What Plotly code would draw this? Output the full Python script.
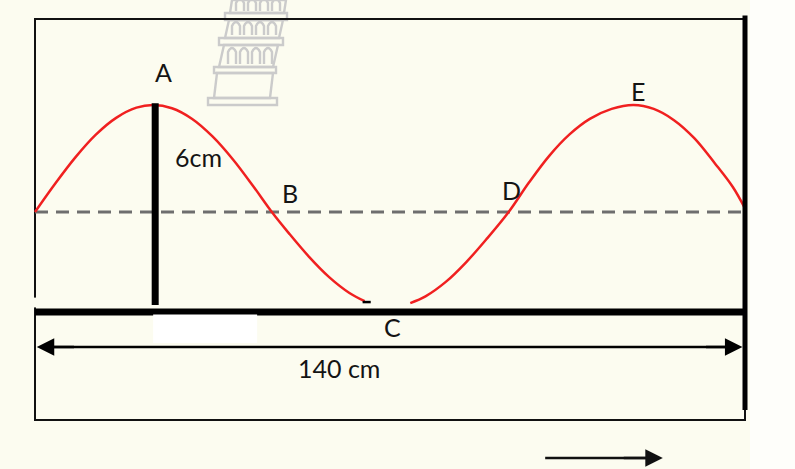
import plotly.graph_objects as go

# ---- data (cm) ----
wave1_x = [0, 4, 8, 12, 16, 20, 23.3, 27, 31, 35, 39, 43, 46.7, 50, 54, 58, 62, 65]
wave1_y = [0, 1.6, 3.08, 4.34, 5.28, 5.85, 6.0, 5.82, 5.22, 4.24, 2.96, 1.46, 0, -1.17, -2.5, -3.65, -4.54, -5.0]
wave2_x = [74, 77, 81, 85, 89, 93.4, 97.4, 101.4, 105.4, 109.4, 113.7, 118, 122, 126, 130, 134, 137.6, 140]
wave2_y = [-5.11, -4.73, -3.92, -2.82, -1.53, 0, 1.65, 3.15, 4.35, 5.22, 5.78, 6.0, 5.78, 5.15, 4.14, 2.75, 1.4, 0.2]

length_cm = 140
amplitude_cm = 6
box_top, box_bottom = 10.82, -11.67
ground_y = -5.61
marker_x = 23.7
marker_top, marker_bottom = 6.1, -5.22
dim_y = -7.57
motion_x = [100.6, 123.8]
motion_y = -13.8

labels = ["A", "6cm", "B", "C", "D", "E", "140 cm"]
label_x = [25.4, 32.3, 50.3, 70.4, 93.9, 118.9, 59.9]
label_y = [7.85, 3.08, 1.07, -6.45, 1.23, 6.79, -8.72]

BG = "#fcfcf0"
W, H = 795, 469

fig = go.Figure()

# dashed equilibrium line
fig.add_trace(go.Scatter(x=[0, length_cm], y=[0, 0], mode="lines",
                         line=dict(color="#6e6e6e", width=3, dash="13px,8px"),
                         hoverinfo="skip", showlegend=False))
# wave
for wx, wy in ((wave1_x, wave1_y), (wave2_x, wave2_y)):
    fig.add_trace(go.Scatter(x=wx, y=wy, mode="lines", line=dict(color="#f02020", width=2.5, shape="spline"),
                             hoverinfo="skip", showlegend=False))

shapes = []
# outer box (thin)
shapes.append(dict(type="rect", x0=0, x1=length_cm, y0=box_bottom, y1=box_top,
                   line=dict(color="#111", width=2), layer="below"))
# gap in left side
shapes.append(dict(type="rect", x0=-0.6, x1=0.6, y0=-5.35, y1=-4.8, line=dict(width=0), fillcolor=BG))
# thick right line
shapes.append(dict(type="line", x0=length_cm, x1=length_cm, y0=box_top + 0.2, y1=-11.1,
                   line=dict(color="#000", width=5)))
# ground line
shapes.append(dict(type="line", x0=0, x1=length_cm, y0=ground_y, y1=ground_y,
                   line=dict(color="#000", width=7)))
# white patch under ground line
shapes.append(dict(type="rect", x0=23.3, x1=43.8, y0=-7.35, y1=-5.75, line=dict(width=0), fillcolor="#ffffff"))
# amplitude marker
shapes.append(dict(type="line", x0=marker_x, x1=marker_x, y0=marker_bottom, y1=marker_top,
                   line=dict(color="#000", width=7)))
# small dash near trough
shapes.append(dict(type="line", x0=64.6, x1=66.2, y0=-5.05, y1=-5.05, line=dict(color="#000", width=2.5)))
# dimension line body
shapes.append(dict(type="line", x0=2, x1=length_cm - 2, y0=dim_y, y1=dim_y, line=dict(color="#000", width=2.5)))
# motion arrow body
shapes.append(dict(type="line", x0=motion_x[0], x1=motion_x[1] - 2, y0=motion_y, y1=motion_y,
                   line=dict(color="#111", width=2.5)))

# ---- watermark tower (paper coords from pixel positions) ----
def P(px, py):
    return f"{px / W:.5f},{1 - py / H:.5f}"

def poly(pts):
    return "M " + " L ".join(P(*p) for p in pts) + " Z"

TG = "#cbcbcb"
tower_paths = [
    poly([(208, 98), (277, 98), (277, 105), (208, 105)]),          # base
    poly([(214, 98), (270, 98), (273, 73), (217, 73)]),             # bottom tier
    poly([(214, 67), (276, 67), (276, 73), (214, 73)]),             # ledge
    poly([(219, 67), (273, 67), (278, 45), (224, 45)]),             # tier 2
    poly([(219, 38), (283, 38), (283, 45), (219, 45)]),             # ledge
    poly([(225, 38), (279, 38), (283, 20), (229, 20)]),             # tier 3
    poly([(225, 13), (287, 13), (287, 20), (225, 20)]),             # ledge
    poly([(230, 13), (284, 13), (286, 0), (232, 0)]),               # top tier
]
arches = []
for (y_b, y_t, xs) in [(64, 52, [228, 240, 252, 264]), (35, 26, [232, 244, 256, 268]), (11, 3, [236, 248, 260, 272])]:
    for x0 in xs:
        x1 = x0 + 8
        arches.append(f"M {P(x0, y_b)} L {P(x0, y_t)} Q {P((x0 + x1) / 2, y_t - 8)} {P(x1, y_t)} L {P(x1, y_b)}")
for p in tower_paths + arches:
    shapes.append(dict(type="path", path=p, xref="paper", yref="paper",
                       line=dict(color=TG, width=2.4), layer="below"))

# whiter area right of the box
shapes.append(dict(type="rect", xref="paper", yref="paper", x0=750 / W, x1=1, y0=0, y1=1,
                   line=dict(width=0), fillcolor="#fefefa", layer="below"))

annotations = []
for t, x, y in zip(labels, label_x, label_y):
    annotations.append(dict(x=x, y=y, text=t, showarrow=False, xanchor="center", yanchor="middle",
                            font=dict(family="Lato, Liberation Sans, sans-serif", size=25, color="#141414")))
# double arrow heads (dimension)
for end, tail in ((0.35, 8), (length_cm - 0.5, length_cm - 8)):
    annotations.append(dict(x=end, y=dim_y, ax=tail, ay=dim_y, axref="x", ayref="y", xref="x", yref="y",
                            text="", showarrow=True, arrowhead=2, arrowsize=1.4, arrowwidth=2.5,
                            arrowcolor="#000", standoff=0))
# motion arrow head
annotations.append(dict(x=motion_x[1], y=motion_y, ax=motion_x[1] - 8, ay=motion_y, axref="x", ayref="y",
                        xref="x", yref="y", text="", showarrow=True, arrowhead=2, arrowsize=1.4,
                        arrowwidth=2.5, arrowcolor="#111", standoff=0))

fig.update_layout(
    width=W, height=H, margin=dict(l=0, r=0, t=0, b=0),
    paper_bgcolor=BG, plot_bgcolor=BG,
    xaxis=dict(range=[-6.901, 149.86], visible=False, fixedrange=True),
    yaxis=dict(range=[-14.411, 11.888], visible=False, fixedrange=True),
    shapes=shapes, annotations=annotations, showlegend=False,
)
fig.write_html("out.html", config={"displayModeBar": False},
               post_script="document.body.style.margin='0px';document.body.style.overflow='hidden';")
